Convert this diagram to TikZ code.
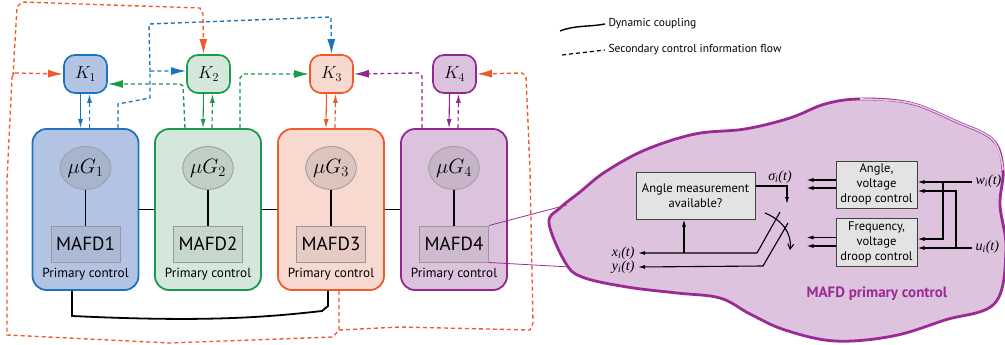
\documentclass[tikz,border=0pt]{standalone}
\usepackage{fontspec}
\setmainfont{PT Sans}
\newfontfamily\timesf{Liberation Serif}
\usetikzlibrary{arrows.meta,calc,shapes.geometric}
\definecolor{cB}{HTML}{1C75BC}\definecolor{fB}{HTML}{B3C3E3}
\definecolor{cG}{HTML}{1A9A4A}\definecolor{fG}{HTML}{D3E7DA}
\definecolor{cR}{HTML}{EF5A28}\definecolor{fR}{HTML}{F8D9D0}
\definecolor{cP}{HTML}{92278F}\definecolor{fP}{HTML}{DCC3DD}
\definecolor{blobf}{HTML}{DDC3DE}\definecolor{blobd}{HTML}{9B2A94}
\newcommand{\sigl}[2]{{\timesf\itshape #1\textsubscript{#2}(t)}}
\begin{document}
\begin{tikzpicture}[x=1pt,y=-1pt,
  bigbox/.style={draw,line width=1.8pt,rounded corners=14pt,minimum width=106pt,minimum height=161pt},
  kbox/.style={draw,line width=1.7pt,rounded corners=11pt,minimum width=43pt,minimum height=38pt,font=\fontsize{18}{20}\selectfont},
  gcirc/.style={ellipse,draw=gray!75,line width=0.9pt,fill=gray,fill opacity=0.22,text opacity=1,minimum width=40pt,minimum height=43pt,inner sep=0pt,font=\fontsize{19.5}{20}\selectfont},
  mafd/.style={draw=gray!80,line width=1pt,fill=gray,fill opacity=0.15,text opacity=1,minimum width=69pt,minimum height=36pt,inner sep=0pt,font=\fontsize{19}{20}\selectfont},
  prim/.style={font=\fontsize{13.2}{15}\selectfont},
  sec/.style={dash pattern=on 4pt off 3pt,line width=1.35pt},
  bigar/.style={-{Latex[length=15pt,width=8pt]}},
  smar/.style={-{Latex[length=9pt,width=5pt]}},
  couple/.style={line width=1.8pt,black},
  ctl/.style={line width=1.1pt,black},
  arrs/.style={ctl,-{Latex[length=7pt,width=4pt]}},
  gbox/.style={draw=black!75,line width=1pt,fill=gray!22,align=center,inner sep=0pt,font=\fontsize{12.5}{15}\selectfont},
  lab/.style={font=\fontsize{14}{16}\selectfont}
]
\useasboundingbox (0,0) rectangle (1005,345);

% big boxes
\node[bigbox,draw=cB,fill=fB] (B1) at (85.5,209.5) {};
\node[bigbox,draw=cG,fill=fG] (B2) at (208,209.5) {};
\node[bigbox,draw=cR,fill=fR] (B3) at (331,209.5) {};
\node[bigbox,draw=cP,fill=fP] (B4) at (454,209.5) {};

% K boxes
\node[kbox,draw=cB,fill=fB] (K1) at (85.5,74) {$K_1$};
\node[kbox,draw=cG,fill=fG] (K2) at (208.5,74) {$K_2$};
\node[kbox,draw=cR,fill=fR] (K3) at (331.5,74) {$K_3$};
\node[kbox,draw=cP,fill=fP] (K4) at (454.5,74) {$K_4$};

% inner
\foreach \i/\x in {1/85.5,2/208,3/331,4/454}{
  \node[gcirc] (G\i) at (\x,168) {$\mu G_{\i}$};
  \node[mafd] (M\i) at (\x,244) {MAFD\i};
  \node[prim] (P\i) at (\x,274) {Primary control};
  \draw[couple] (G\i) -- (M\i);
}

% K <-> box arrows
\foreach \i/\c in {1/cB,2/cG,3/cR,4/cP}{
  \draw[\c,line width=1.1pt,smar] ([xshift=-5pt]K\i.south) -- ([xshift=-5pt]B\i.north);
  \draw[\c,sec,line width=1.1pt,smar] ([xshift=4pt]B\i.north) -- ([xshift=4pt]K\i.south);
}

% dynamic coupling
\draw[couple] (B1.east) -- (B2.west);
\draw[couple] (B2.east) -- (B3.west);
\draw[couple] (B3.east) -- (B4.west);
\draw[couple] ([xshift=-13.5pt]B1.south) -- (72,316) .. controls (200,322) and (260,318) .. (322,311) -- (328,306) -- ([xshift=-3pt]B3.south);

% blue secondary
\draw[cB,sec,bigar] ([xshift=32.5pt]B1.north) -- (118,104) -- (150,98) -- (150,71) -- ($(K2.west)+(0,-3)$);
\draw[cB,sec,bigar] (150,72) -- (149,24) -- (331,17) -- (K3.north);

% green secondary
\draw[cG,sec,bigar] ([xshift=-23pt]B2.north) -- (183,86) -- (180,84) -- ($(K1.east)+(0,10)$);
\draw[cG,sec,bigar] ([xshift=32pt]B2.north) -- (240,78) -- (243,74) -- (K3.west);

% purple secondary
\draw[cP,sec,bigar] ([xshift=-32pt]B4.north) -- (422,76) -- (419,73) -- (K3.east);

% red secondary
\draw[cR,sec] ([xshift=8pt]B3.south) -- (339,330) -- (333,337) -- (170,343) -- (7,335) -- (7,180) -- (12,77) -- (15,73);
\draw[cR,sec,bigar] (15,73) -- (K1.west);
\draw[cR,sec,bigar] (13,76) -- (17,7) -- (22,2) -- (200,8) -- (203,14) -- ($(K2.north)+(-5,0)$);
\draw[cR,sec,bigar] (339,330) -- (400,327) -- (530,330) -- (533,323) -- (530,170) -- (526,76) -- (522,73) -- (K4.east);

% legend
\coordinate (L1) at (560,31);
\coordinate (L2) at (562,55);
\node[anchor=west,font=\fontsize{11.5}{13}\selectfont] (LT1) at (605,24) {Dynamic coupling};
\node[anchor=west,font=\fontsize{11.5}{13}\selectfont] (LT2) at (605,50) {Secondary control information flow};
\draw[line width=1.4pt] (L1) .. controls (575,25) and (590,27) .. (LT1.west);
\draw[sec,line width=1.2pt] (L2) -- (LT2.west);

% blob
\draw[blobd,line width=2.8pt,fill=blobf] plot[smooth cycle,tension=0.6] coordinates {
 (549,223) (560,208) (580,192) (605,172) (645,150) (695,134) (745,129) (790,118)
 (825,104) (860,99) (910,103) (955,121) (993,140) (1003,170) (1000,205) (1006,250)
 (995,303) (945,320) (893,336) (835,341) (785,330) (750,314) (720,298) (677,293)
 (627,287) (582,277) (565,262)};
\draw[white,line width=1.6pt,opacity=0.75] plot[smooth,tension=0.6] coordinates {(860,99) (910,103) (955,121) (993,140) (1003,170)};

% zoom lines
\coordinate (Z1) at (567,205);
\coordinate (Z2) at (570,267);
\draw[blobd,line width=0.8pt] (M4.north east) -- (Z1);
\draw[blobd,line width=0.8pt] (M4.south east) -- (Z2);

% blob content
\node[gbox,minimum width=119pt,minimum height=47pt] (AM) at (695.5,195.5) {Angle measurement\\available?};
\node[gbox,minimum width=81pt,minimum height=47pt] (AD) at (876.5,184.5) {Angle,\\voltage\\droop control};
\node[gbox,minimum width=81pt,minimum height=48pt] (FD) at (876.5,242) {Frequency,\\voltage\\droop control};

\node[lab,anchor=south] (sig) at (780,187) {\sigl{σ}{i}};
\node[lab,anchor=east] (xl) at (638,253) {\sigl{x}{i}};
\node[lab,anchor=east] (yl) at (638,267) {\sigl{y}{i}};
\node[lab,anchor=west] (wl) at (972,181) {\sigl{w}{i}};
\node[lab,anchor=west] (ul) at (972,247) {\sigl{u}{i}};

\draw[arrs] ($(AM.east)+(0,-9.5)$) -- (787,186) -- (787,204);
\draw[arrs] (780,212) -- (757,253) -- (xl.east);
\draw[arrs] (788,223) -- (763,266) -- (yl.east);
\draw[arrs] (684,253) -- (AM.south -| 684,0);
\draw[ctl,-{Straight Barb[length=5pt,width=6pt]}] (765,213) .. controls (782,220) and (792,233) .. (790,250);

\draw[arrs] ($(AD.west)+(0,-4.5)$) -- ++(-29,0);
\draw[arrs] ($(AD.west)+(0,3.5)$) -- ++(-29,0);
\draw[arrs] ($(FD.west)+(0,-4.5)$) -- ++(-29,0);
\draw[arrs] ($(FD.west)+(0,4)$) -- ++(-29,0);

\draw[arrs] (wl.west |- 0,182) -- (AD.east |- 0,182);
\draw[arrs] (943,182) -- (943,239) -- (FD.east |- 0,239);
\draw[arrs] (ul.west |- 0,248) -- (FD.east |- 0,248);
\draw[arrs] (956,248) -- (956,191) -- (AD.east |- 0,191);

\node[text=blobd,font=\bfseries\fontsize{15}{17}\selectfont] (title) at (877,294) {MAFD primary control};
\end{tikzpicture}
\end{document}
